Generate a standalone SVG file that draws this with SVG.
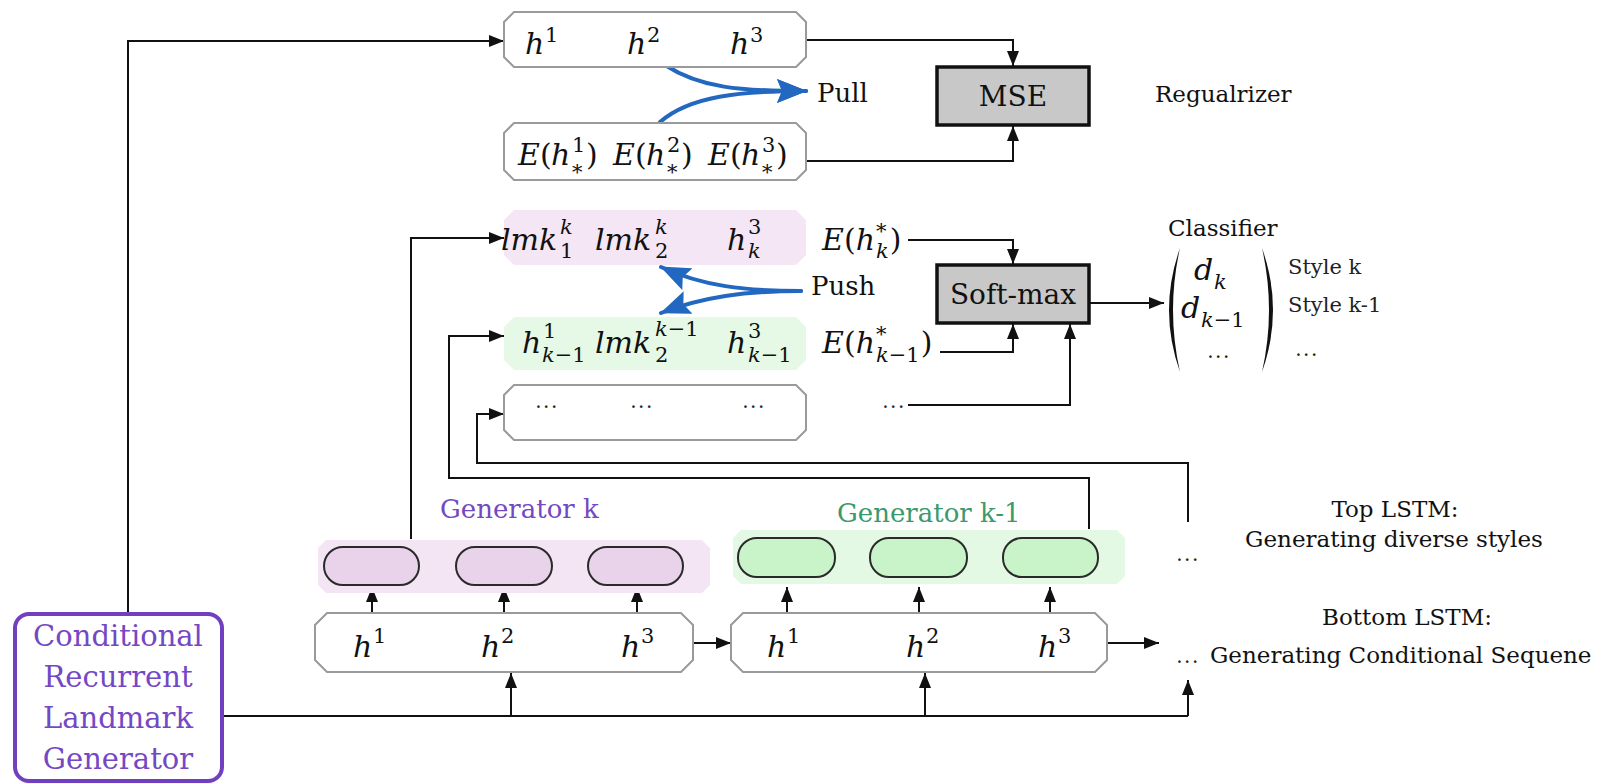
<svg xmlns="http://www.w3.org/2000/svg" width="1606" height="784" viewBox="0 0 1606 784">
  <defs>
    <style>
      text { font-family: "DejaVu Serif", serif; fill: #111; }
      .mi { font-style: italic; font-size: 30px; }
      .mr { font-size: 30px; }
      .si { font-style: italic; font-size: 21px; }
      .sr { font-size: 21px; }
      .it { font-style: italic; }
      .up { font-style: normal; }
      .lbl { font-size: 23px; }
      .big { font-size: 28px; }
      .pp { font-size: 26px; }
      .gen { font-size: 26px; }
      .crlg { font-size: 29px; fill: #7448c4; text-anchor: middle; }
      .sty { font-size: 21px; fill: #222; }
      .dots { font-size: 20px; fill: #222; letter-spacing: 1.5px; text-anchor: middle; }
      .frame { fill: #fff; stroke: #9a9a9a; stroke-width: 2; }
      .op { fill: #c8c8c8; stroke: #111; stroke-width: 3.5; }
      .pcell { fill: #e9d3ea; stroke: #2a2a2a; stroke-width: 2; }
      .gcell { fill: #c9f4c9; stroke: #2a2a2a; stroke-width: 2; }
      .wire { fill: none; stroke: #111; stroke-width: 2; }
      .wa { fill: none; stroke: #111; stroke-width: 2; marker-end: url(#ah); }
      .blue { fill: none; stroke: #2368c0; stroke-width: 4; stroke-linecap: round; marker-end: url(#bh); }
    </style>
    <marker id="ah" viewBox="0 0 15 12" refX="15" refY="6" markerWidth="15" markerHeight="12" markerUnits="userSpaceOnUse" orient="auto">
      <path d="M0,0 L15,6 L0,12 Z" fill="#111"/>
    </marker>
    <marker id="bh" viewBox="0 0 30 24" refX="29" refY="12" markerWidth="30" markerHeight="24" markerUnits="userSpaceOnUse" orient="auto">
      <path d="M0,0 L30,12 L0,24 L5,12 Z" fill="#2368c0"/>
    </marker>
  </defs>

  <rect width="1606" height="784" fill="#fff"/>

  <!-- connectors -->
  <g id="connectors">
    <path class="wa" d="M128,612 V41 H504"/>
    <path class="wa" d="M807,40 H1013 V66"/>
    <path class="wa" d="M807,161 H1013 V126"/>
    <path class="wa" d="M411,539 V238 H504"/>
    <path class="wa" d="M908,240 H1013 V264"/>
    <path class="wa" d="M940,352 H1013 V324"/>
    <path class="wa" d="M1089,529 V478 H449 V336 H504"/>
    <path class="wa" d="M1188,522 V463 H477 V414 H504"/>
    <path class="wa" d="M908,405 H1070 V324"/>
    <path class="wa" d="M1090,303 H1164"/>
    <path class="wire" d="M224,716 H1188"/>
    <path class="wa" d="M1188,716 V680"/>
    <path class="wa" d="M511,716 V673"/>
    <path class="wa" d="M925,716 V673"/>
    <path class="wa" d="M694,643 H731"/>
    <path class="wa" d="M1108,643 H1159"/>
    <!-- bottom LSTM to top LSTM cells -->
    <path class="wa" d="M372,613 V587"/>
    <path class="wa" d="M504,613 V587"/>
    <path class="wa" d="M637,613 V587"/>
    <path class="wa" d="M787,613 V587"/>
    <path class="wa" d="M919,613 V587"/>
    <path class="wa" d="M1050,613 V587"/>
    <!-- recurrent links of generator k-1 -->
    <path class="wa" d="M835,557 H870"/>
    <path class="wa" d="M967,557 H1003"/>
    <!-- pull / push -->
    <path class="blue" d="M665,65 C700,88 740,91 806,91"/>
    <path class="blue" d="M660,122 C690,96 740,91 806,91"/>
    <path class="blue" d="M801,291 C745,291 702,286 661,267"/>
    <path class="blue" d="M801,291 C745,291 702,297 661,313"/>
  </g>

  <!-- hidden states of the sampled sequence -->
  <g id="h-top">
    <path class="frame" d="M514,12 H796 L806,22 V57 L796,67 H514 L504,57 V22 Z"/>
    <text class="mi" x="525" y="54">h</text><text class="sr" x="545" y="42">1</text>
    <text class="mi" x="627" y="54">h</text><text class="sr" x="647" y="42">2</text>
    <text class="mi" x="730" y="54">h</text><text class="sr" x="750" y="42">3</text>
  </g>

  <!-- expected hidden states -->
  <g id="h-expect">
    <path class="frame" d="M514,123 H796 L806,133 V170 L796,180 H514 L504,170 V133 Z"/>
    <text class="mi" x="518" y="165">E</text><text class="mr" x="540" y="165">(</text><text class="mi" x="551" y="165">h</text>
    <text class="sr" x="572" y="152">1</text><text class="sr" x="572" y="179">*</text><text class="mr" x="586" y="165">)</text>
    <text class="mi" x="613" y="165">E</text><text class="mr" x="635" y="165">(</text><text class="mi" x="646" y="165">h</text>
    <text class="sr" x="667" y="152">2</text><text class="sr" x="667" y="179">*</text><text class="mr" x="681" y="165">)</text>
    <text class="mi" x="708" y="165">E</text><text class="mr" x="730" y="165">(</text><text class="mi" x="741" y="165">h</text>
    <text class="sr" x="762" y="152">3</text><text class="sr" x="762" y="179">*</text><text class="mr" x="776" y="165">)</text>
  </g>

  <g id="pull-label"><text class="pp" x="817" y="102">Pull</text></g>

  <g id="mse">
    <rect class="op" x="937" y="67" width="152" height="58"/>
    <text class="big" x="1013" y="106" text-anchor="middle">MSE</text>
  </g>
  <g id="regularizer-label"><text class="lbl" x="1155" y="102">Regualrizer</text></g>

  <!-- style k features -->
  <g id="feat-k">
    <path d="M514,210 H796 L806,220 V255 L796,265 H514 L504,255 V220 Z" fill="#f4e6f4"/>
    <text class="mi" x="501" y="250">lmk</text><text class="si" x="560" y="234">k</text><text class="sr" x="560" y="258">1</text>
    <text class="mi" x="595" y="250">lmk</text><text class="si" x="655" y="234">k</text><text class="sr" x="655" y="258">2</text>
    <text class="mi" x="727" y="250">h</text><text class="sr" x="748" y="234">3</text><text class="si" x="748" y="258">k</text>
    <text class="mr" x="822" y="250"><tspan class="it">E</tspan>(<tspan class="it">h</tspan><tspan font-size="21" dx="1" dy="-12">*</tspan><tspan class="it" font-size="21" dx="-10.5" dy="20">k</tspan><tspan font-size="30" dx="1" dy="-8">)</tspan></text>
  </g>

  <g id="push-label"><text class="pp" x="811" y="295">Push</text></g>

  <!-- style k-1 features -->
  <g id="feat-k-1">
    <path d="M514,317 H796 L806,327 V360 L796,370 H514 L504,360 V327 Z" fill="#e6f9e6"/>
    <text class="mi" x="522" y="353">h</text><text class="sr" x="543" y="338">1</text><text class="si" x="542" y="362">k<tspan class="up">−1</tspan></text>
    <text class="mi" x="595" y="353">lmk</text><text class="si" x="655" y="336">k<tspan class="up">−1</tspan></text><text class="sr" x="655" y="362">2</text>
    <text class="mi" x="727" y="353">h</text><text class="sr" x="748" y="338">3</text><text class="si" x="748" y="362">k<tspan class="up">−1</tspan></text>
    <text class="mr" x="822" y="353"><tspan class="it">E</tspan>(<tspan class="it">h</tspan><tspan font-size="21" dx="1" dy="-12">*</tspan><tspan class="it" font-size="21" dx="-10.5" dy="21">k</tspan><tspan font-size="21">−1</tspan><tspan font-size="30" dx="1" dy="-9">)</tspan></text>
  </g>

  <!-- further styles -->
  <g id="feat-more">
    <path class="frame" d="M514,385 H796 L806,395 V430 L796,440 H514 L504,430 V395 Z"/>
    <text class="dots" x="547" y="408">...</text>
    <text class="dots" x="642" y="408">...</text>
    <text class="dots" x="754" y="408">...</text>
    <text class="dots" x="894" y="408">...</text>
  </g>

  <g id="softmax">
    <rect class="op" x="937" y="265" width="152" height="58"/>
    <text class="big" x="1013" y="304" text-anchor="middle">Soft-max</text>
  </g>

  <!-- classifier output vector -->
  <g id="classifier">
    <text class="lbl" x="1168" y="236">Classifier</text>
    <path d="M1180,248 Q1158,310 1180,372 Q1166,310 1180,248 Z" fill="#111"/>
    <path d="M1262,248 Q1284,310 1262,372 Q1276,310 1262,248 Z" fill="#111"/>
    <text class="mi" x="1194" y="280">d</text><text class="si" x="1214" y="289">k</text>
    <text class="mi" x="1181" y="318">d</text><text class="si" x="1201" y="327">k<tspan class="up">−1</tspan></text>
    <text class="dots" x="1219" y="358">...</text>
    <text class="sty" x="1288" y="274">Style k</text>
    <text class="sty" x="1288" y="312">Style k-1</text>
    <text class="dots" x="1307" y="356">...</text>
  </g>

  <!-- top LSTM, generator k -->
  <g id="generator-k">
    <text class="gen" x="440" y="518" style="fill:#7448c4">Generator k</text>
    <path d="M326,540 H702 L710,548 V585 L702,593 H326 L318,585 V548 Z" fill="#f4e5f4"/>
    <rect class="pcell" x="324" y="547" width="95" height="38" rx="19"/>
    <rect class="pcell" x="456" y="547" width="96" height="38" rx="19"/>
    <rect class="pcell" x="588" y="547" width="95" height="38" rx="19"/>
  </g>

  <!-- top LSTM, generator k-1 -->
  <g id="generator-k-1">
    <text class="gen" x="837" y="522" style="fill:#3a9a6c">Generator k-1</text>
    <path d="M741,530 H1117 L1125,538 V576 L1117,584 H741 L733,576 V538 Z" fill="#e4f9e4"/>
    <rect class="gcell" x="738" y="538" width="97" height="39" rx="19"/>
    <rect class="gcell" x="870" y="538" width="97" height="39" rx="19"/>
    <rect class="gcell" x="1003" y="538" width="95" height="39" rx="19"/>
  </g>

  <g id="generator-more"><text class="dots" x="1188" y="561">...</text></g>

  <g id="top-lstm-label">
    <text class="lbl" x="1395" y="517" text-anchor="middle">Top LSTM:</text>
    <text class="lbl" x="1394" y="547" text-anchor="middle">Generating diverse styles</text>
  </g>

  <!-- bottom LSTM -->
  <g id="bottom-lstm-1">
    <path class="frame" d="M327,613 H681 L693,625 V660 L681,672 H327 L315,660 V625 Z"/>
    <text class="mi" x="353" y="657">h</text><text class="sr" x="373" y="643">1</text>
    <text class="mi" x="481" y="657">h</text><text class="sr" x="501" y="643">2</text>
    <text class="mi" x="621" y="657">h</text><text class="sr" x="641" y="643">3</text>
  </g>
  <g id="bottom-lstm-2">
    <path class="frame" d="M743,613 H1095 L1107,625 V660 L1095,672 H743 L731,660 V625 Z"/>
    <text class="mi" x="767" y="657">h</text><text class="sr" x="787" y="643">1</text>
    <text class="mi" x="906" y="657">h</text><text class="sr" x="926" y="643">2</text>
    <text class="mi" x="1038" y="657">h</text><text class="sr" x="1058" y="643">3</text>
  </g>

  <g id="bottom-lstm-label">
    <text class="lbl" x="1407" y="625" text-anchor="middle">Bottom LSTM:</text>
    <text class="dots" x="1188" y="663">...</text>
    <text class="lbl" x="1210" y="663">Generating Conditional Sequene</text>
  </g>

  <!-- conditional recurrent landmark generator -->
  <g id="crlg">
    <rect x="15" y="614" width="207" height="167" rx="14" fill="#fff" stroke="#7040c0" stroke-width="4"/>
    <text class="crlg" x="118" y="646">Conditional</text>
    <text class="crlg" x="118" y="687">Recurrent</text>
    <text class="crlg" x="118" y="728">Landmark</text>
    <text class="crlg" x="118" y="769">Generator</text>
  </g>
</svg>
